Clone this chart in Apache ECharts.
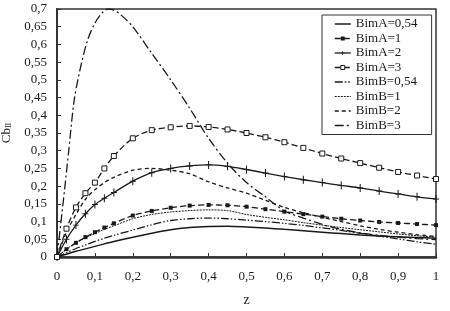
<!DOCTYPE html>
<html>
<head>
<meta charset="utf-8">
<script src="https://cdn.jsdelivr.net/npm/echarts@6/dist/echarts.min.js"></script>
<style>html,body{margin:0;padding:0;background:#fff}#c{width:450px;height:311px}</style>
</head>
<body>
<div id="c"></div>
<script>
// z positions shared by most curves
var zVals = [0, 0.025, 0.05, 0.075, 0.1, 0.125, 0.15, 0.2, 0.25, 0.3, 0.35, 0.4, 0.45, 0.5, 0.55, 0.6, 0.65, 0.7, 0.75, 0.8, 0.85, 0.9, 0.95, 1];
var bimA054 = [0, 0.008, 0.016, 0.023, 0.03, 0.037, 0.044, 0.056, 0.067, 0.077, 0.083, 0.086, 0.087, 0.085, 0.082, 0.078, 0.074, 0.07, 0.066, 0.062, 0.059, 0.057, 0.055, 0.053];
var bimA1   = [0, 0.022, 0.04, 0.056, 0.07, 0.083, 0.095, 0.117, 0.13, 0.139, 0.145, 0.147, 0.146, 0.142, 0.135, 0.128, 0.121, 0.114, 0.108, 0.103, 0.099, 0.096, 0.093, 0.09];
var bimA2   = [0, 0.05, 0.09, 0.122, 0.148, 0.166, 0.182, 0.214, 0.238, 0.25, 0.257, 0.26, 0.256, 0.247, 0.237, 0.227, 0.218, 0.21, 0.202, 0.195, 0.186, 0.178, 0.17, 0.164];
var bimA3   = [0, 0.08, 0.14, 0.18, 0.21, 0.25, 0.285, 0.335, 0.358, 0.366, 0.37, 0.367, 0.36, 0.35, 0.338, 0.324, 0.308, 0.292, 0.278, 0.265, 0.252, 0.24, 0.23, 0.22];
var bimB054 = [0, 0.012, 0.024, 0.034, 0.044, 0.053, 0.061, 0.076, 0.091, 0.103, 0.108, 0.11, 0.108, 0.104, 0.1, 0.095, 0.089, 0.082, 0.075, 0.067, 0.059, 0.051, 0.043, 0.036];
var bimB1   = [0, 0.022, 0.04, 0.054, 0.066, 0.078, 0.088, 0.108, 0.12, 0.127, 0.131, 0.133, 0.131, 0.12, 0.112, 0.105, 0.097, 0.09, 0.083, 0.077, 0.071, 0.065, 0.06, 0.056];
var bimB2   = [0, 0.07, 0.12, 0.163, 0.19, 0.21, 0.225, 0.245, 0.25, 0.245, 0.235, 0.212, 0.195, 0.18, 0.16, 0.14, 0.125, 0.112, 0.1, 0.088, 0.078, 0.07, 0.063, 0.058];
// BimB=3 has its own, denser z positions near its sharp peak
var zB3     = [0, 0.01, 0.02, 0.03, 0.045, 0.06, 0.08, 0.1, 0.12, 0.135, 0.15, 0.17, 0.2, 0.25, 0.3, 0.35, 0.4, 0.45, 0.5, 0.55, 0.6, 0.65, 0.7, 0.75, 0.8, 0.85, 0.9, 0.95, 1];
var bimB3   = [0, 0.095, 0.19, 0.29, 0.44, 0.525, 0.61, 0.66, 0.69, 0.7, 0.697, 0.682, 0.65, 0.575, 0.5, 0.42, 0.335, 0.265, 0.21, 0.17, 0.13, 0.11, 0.092, 0.078, 0.068, 0.061, 0.056, 0.052, 0.049];
var seriesNames = ['BimA=0,54', 'BimA=1', 'BimA=2', 'BimA=3', 'BimB=0,54', 'BimB=1', 'BimB=2', 'BimB=3'];

function pairs(xs, ys) { return xs.map(function (x, i) { return [x, ys[i]]; }); }
function fmt(v) { return String(Math.round(v * 100) / 100).replace('.', ','); }

var ink = '#1a1a1a';
var font = '"Liberation Serif", "DejaVu Serif", serif';
var plus = 'path://M4.4,0h1.2v10h-1.2zM1.5,4.4h7v1.2h-7z';

var styles = [
  { type: 'solid', width: 1.5, sym: null },
  { type: [6, 3], width: 1.3, sym: { symbol: 'rect', symbolSize: 4 } },
  { type: 'solid', width: 1.3, sym: { symbol: plus, symbolSize: [6, 8] } },
  { type: [6, 3], width: 1.3, sym: { symbol: 'rect', symbolSize: 5, hollow: true } },
  { type: [8, 2, 1.5, 2, 1.5, 2], width: 1.3, sym: null },
  { type: [2, 1], width: 1, sym: null },
  { type: [4, 3], width: 1.3, sym: null },
  { type: [9, 3, 2, 3], width: 1.3, sym: null }
];
var dataSets = [
  pairs(zVals, bimA054), pairs(zVals, bimA1), pairs(zVals, bimA2), pairs(zVals, bimA3),
  pairs(zVals, bimB054), pairs(zVals, bimB1), pairs(zVals, bimB2), pairs(zB3, bimB3)
];

var series = seriesNames.map(function (name, i) {
  var st = styles[i];
  var s = {
    name: name, type: 'line', data: dataSets[i], smooth: 0.3,
    lineStyle: { color: ink, width: st.width, type: st.type },
    itemStyle: { color: ink },
    emphasis: { disabled: true }, animation: false, z: 3
  };
  if (st.sym) {
    s.symbol = st.sym.symbol; s.symbolSize = st.sym.symbolSize; s.showSymbol = true;
    if (st.sym.hollow) s.itemStyle = { color: '#fff', borderColor: ink, borderWidth: 1 };
  } else {
    s.symbol = 'none'; s.showSymbol = false;
  }
  return s;
});

var legendData = seriesNames.map(function (name, i) {
  var st = styles[i];
  var d = { name: name, lineStyle: { color: ink, width: st.width, type: st.type } };
  if (!st.sym) {
    d.itemStyle = { opacity: 0 };
  } else if (st.sym.hollow) {
    d.itemStyle = { color: '#fff', borderColor: ink, borderWidth: 1 };
  } else {
    d.itemStyle = { color: ink, borderWidth: 0 };
  }
  return d;
});

var chart = echarts.init(document.getElementById('c'), null, { renderer: 'canvas' });
chart.setOption({
  backgroundColor: '#fff',
  animation: false,
  textStyle: { fontFamily: font, color: ink },
  grid: { left: 57, right: 14, top: 9, bottom: 54, outerBoundsMode: 'none', containLabel: false, show: true, borderColor: '#333', borderWidth: 1.5, backgroundColor: 'transparent' },
  legend: {
    orient: 'vertical', left: 322, top: 15,
    padding: [2, 14, 2, 12], itemGap: 0.5, itemWidth: 16, itemHeight: 5,
    borderColor: '#333', borderWidth: 1, backgroundColor: '#fff',
    textStyle: { fontFamily: font, fontSize: 13, color: ink, lineHeight: 14 },
    data: legendData
  },
  xAxis: {
    type: 'value', min: 0, max: 1, interval: 0.1,
    name: 'z', nameLocation: 'middle', nameGap: 36,
    nameTextStyle: { fontFamily: font, fontSize: 14, color: ink },
    axisLine: { show: true, lineStyle: { color: '#333', width: 2.5 } },
    axisTick: { show: true, inside: true, length: 4, lineStyle: { color: '#333', width: 1 } },
    axisLabel: { formatter: fmt, fontFamily: font, fontSize: 13, color: ink, margin: 13 },
    splitLine: { show: false }
  },
  yAxis: {
    type: 'value', min: 0, max: 0.7, interval: 0.05,
    name: 'Cb{s|II}', nameLocation: 'middle', nameGap: 37, nameRotate: 90,
    nameTextStyle: { fontFamily: font, fontSize: 13, color: ink, rich: { s: { fontFamily: font, fontSize: 8, color: ink, verticalAlign: 'bottom', padding: [6, 0, 0, 0] } } },
    axisLine: { show: true, lineStyle: { color: '#333', width: 2 } },
    axisTick: { show: true, inside: true, length: 4, lineStyle: { color: '#333', width: 1 } },
    axisLabel: { formatter: fmt, fontFamily: font, fontSize: 13, color: ink, margin: 10 },
    splitLine: { show: false }
  },
  series: series
});
</script>
</body>
</html>
